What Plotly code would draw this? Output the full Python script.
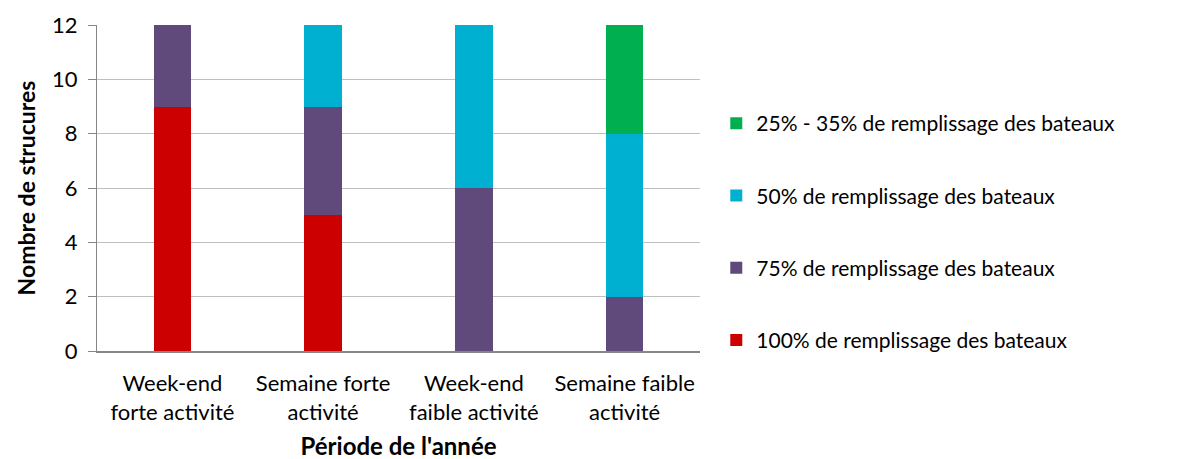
import plotly.graph_objects as go

categories = ["Week-end<br>forte activité", "Semaine forte<br>activité",
              "Week-end<br>faible activité", "Semaine faible<br>activité"]
series_names = ["100% de remplissage des bateaux", "75% de remplissage des bateaux",
                "50% de remplissage des bateaux", "25% - 35% de remplissage des bateaux"]
val_100 = [9, 5, 0, 0]
val_75 = [3, 4, 6, 2]
val_50 = [0, 3, 6, 6]
val_25 = [0, 0, 0, 4]
colors = ["#CC0000", "#604A7B", "#00B0D0", "#00B050"]

font_family = "Lato, 'Open Sans', sans-serif"

fig = go.Figure()
for i, (name, vals, col) in enumerate(zip(series_names, [val_100, val_75, val_50, val_25], colors)):
    fig.add_trace(go.Bar(x=categories, y=vals, name=name, marker_color=col,
                         marker_line_width=0, legendgroup=name, legendrank=10 - i))

# page body has an 8px margin, so left/top margins are reduced by 8
fig.update_layout(
    barmode="stack", bargap=0.75,
    width=1177, height=459,
    margin=dict(l=89, r=485, t=17, b=116),
    paper_bgcolor="white", plot_bgcolor="white",
    font=dict(family=font_family, size=21, color="black"),
    legend=dict(tracegroupgap=42,
                x=1.027, xanchor="left", y=0.365, yanchor="middle",
                font=dict(size=21), itemwidth=30),
)
fig.update_yaxes(range=[0, 12], dtick=2, showgrid=True, gridcolor="#BFBFBF",
                 showline=True, linecolor="#868686", linewidth=1,
                 ticks="outside", ticklen=8, tickcolor="#868686",
                 tickfont=dict(size=22), ticklabelstandoff=6, automargin=False,
                 title=dict(text="<b>Nombre de strucures</b>", font=dict(size=23), standoff=10))
fig.update_xaxes(showline=True, linecolor="#868686", linewidth=2,
                 tickfont=dict(size=22), ticklabelstandoff=12, automargin=False,
                 title=dict(text="<b>Période de l'année</b>", font=dict(size=24), standoff=14))

fig.write_html("out.html")
